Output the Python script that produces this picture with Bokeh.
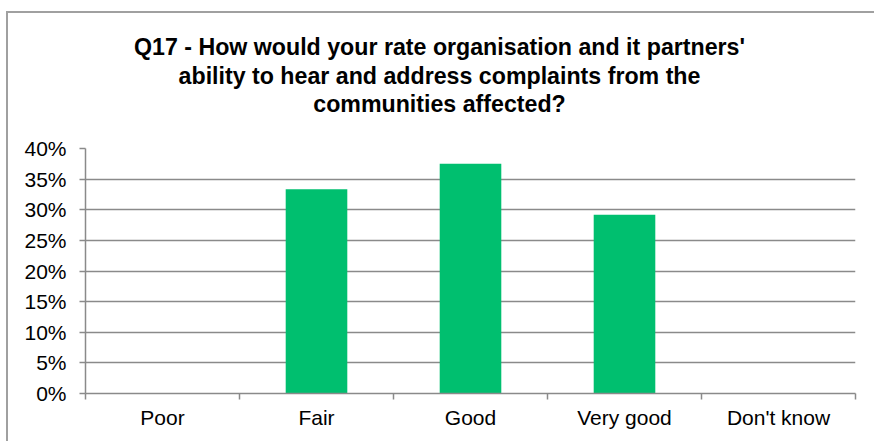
from bokeh.plotting import figure
from bokeh.layouts import column
from bokeh.models import (Range1d, LinearAxis, FixedTicker, NumeralTickFormatter,
                          Label, ColumnDataSource, Grid)
from bokeh.embed import file_html
from bokeh.resources import INLINE

categories = ["Poor", "Fair", "Good", "Very good", "Don't know"]
values = [0.0, 0.3333, 0.375, 0.2917, 0.0]
y_ticks = [0.0, 0.05, 0.10, 0.15, 0.20, 0.25, 0.30, 0.35, 0.40]
title_lines = [
    "Q17 - How would your rate organisation and it partners'",
    "ability to hear and address complaints from the",
    "communities affected?",
]

FONT = "Liberation Sans"
GRAY = "#8a8a8a"
BAR = "#00BF6F"
W = 866
LEFT, RIGHT = 77, 19

positions = [i + 0.5 for i in range(len(categories))]
boundaries = list(range(len(categories) + 1))
source = ColumnDataSource(dict(x=positions, top=values, cat=categories))

# ---- title panel ----
tp = figure(width=W, height=123, output_backend="svg", toolbar_location=None,
            x_range=Range1d(0, 1), y_range=Range1d(0, 1),
            x_axis_location=None, y_axis_location=None,
            min_border_left=LEFT, min_border_right=RIGHT,
            min_border_top=0, min_border_bottom=0)
tp.outline_line_color = None
tp.grid.visible = False
tp.title.visible = False
title_y = [90, 61, 33]
for line, ty in zip(title_lines, title_y):
    tp.add_layout(Label(x=354, y=ty, x_units="screen", y_units="screen",
                        text=line, text_align="center", text_baseline="middle",
                        text_font=FONT, text_font_size="23.2px",
                        text_font_style="bold", text_color="#000000"))

# ---- chart ----
p = figure(width=W, height=305, output_backend="svg", toolbar_location=None,
           x_range=Range1d(0, len(categories)), y_range=Range1d(0, y_ticks[-1]),
           x_axis_location=None, y_axis_location=None,
           min_border_left=LEFT, min_border_right=RIGHT, min_border_top=12,
           min_border_bottom=48)
p.outline_line_color = None
p.title.visible = False
p.grid.visible = False

yaxis = LinearAxis(ticker=FixedTicker(ticks=y_ticks),
                   formatter=NumeralTickFormatter(format="0%"),
                   major_tick_out=6, major_tick_in=0,
                   minor_tick_line_color=None,
                   axis_line_color=GRAY, axis_line_width=1.5,
                   major_tick_line_color=GRAY, major_tick_line_width=1.5,
                   major_label_text_font=FONT,
                   major_label_text_font_size="21px",
                   major_label_text_color="#000000",
                   major_label_standoff=13)
p.add_layout(yaxis, "left")

grid = Grid(dimension=1, ticker=FixedTicker(ticks=y_ticks),
            grid_line_color=GRAY, grid_line_width=1.5)
p.add_layout(grid)

p.vbar(x="x", top="top", bottom=0, width=0.4, source=source,
       fill_color=BAR, line_color=None)

xaxis = LinearAxis(ticker=FixedTicker(ticks=positions, minor_ticks=boundaries),
                   major_label_overrides={pos: c for pos, c in zip(positions, categories)},
                   major_tick_out=0, major_tick_in=0,
                   major_tick_line_color=None,
                   minor_tick_out=6, minor_tick_in=0,
                   minor_tick_line_color=GRAY, minor_tick_line_width=1.5,
                   axis_line_color=GRAY, axis_line_width=1.5,
                   major_label_text_font=FONT,
                   major_label_text_font_size="21px",
                   major_label_text_color="#000000",
                   major_label_standoff=6)
p.add_layout(xaxis, "below")

layout = column(tp, p, spacing=0)
layout.styles = {"outline": "2px solid #a0a0a0", "margin-top": "13px", "margin-left": "8px"}

open("out.html", "w").write(file_html(layout, INLINE))
